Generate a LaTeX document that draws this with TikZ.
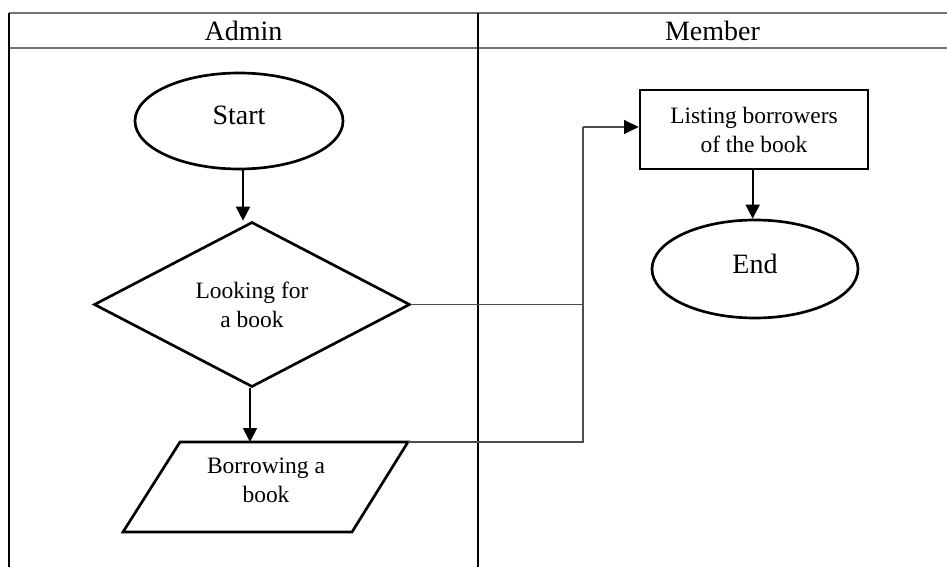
\documentclass[tikz,border=0pt]{standalone}
\usepackage{fontspec}
\setmainfont{Liberation Serif}
\usetikzlibrary{arrows.meta,shapes.geometric}
\begin{document}
\begin{tikzpicture}[x=0.75pt,y=-0.75pt,
  shapeline/.style={draw=black,line width=2pt},
  bigtext/.style={font=\fontsize{21}{25}\selectfont},
  smalltext/.style={font=\fontsize{17.6}{21.75}\selectfont,align=center},
  arr/.style={draw=black,line width=1.4pt,-{Triangle[width=10.5pt,length=10.5pt]}},
  conn/.style={draw=black!70,line width=0.9pt},
  connarr/.style={draw=black!70,line width=0.9pt,-{Triangle[width=10.5pt,length=11pt,fill=black,color=black]}},
  laneline/.style={draw=black,line width=0.9pt},
  headline/.style={draw=black!55,line width=1.6pt}]
\useasboundingbox (0,0) rectangle (947,567);
% lanes
\draw[headline] (9,13) -- (947,13);
\draw[headline] (9,48) -- (947,48);
\draw[laneline] (9,13) -- (9,567);
\draw[laneline] (478,13) -- (478,567);
\node[bigtext] (hadmin) at (243.5,30.5) {Admin};
\node[bigtext] (hmember) at (712.5,30.5) {Member};
% shapes
\node[shapeline,ellipse,minimum width=156pt,minimum height=72pt,inner sep=0pt] (start) at (239,121) {};
\node[bigtext] (starttxt) at (239,115) {Start};
\node[shapeline,diamond,minimum width=237pt,minimum height=123.75pt,inner sep=0pt,smalltext] (dia) at (252,304.5) {Looking for\\a book};
\coordinate (pBL) at (123,532);
\coordinate (pBR) at (352,532);
\coordinate (pTR) at (408,442);
\coordinate (pTL) at (180,442);
\draw[shapeline,line join=miter] (pBL) -- (pBR) -- (pTR) -- (pTL) -- cycle;
\node[smalltext] (borrow) at (266,480) {Borrowing a\\book};
\coordinate (ptop) at (250,442);
\node[shapeline,rectangle,minimum width=171pt,minimum height=59.25pt,inner sep=0pt,smalltext] (lst) at (754,129.5) {Listing borrowers\\of the book};
\node[shapeline,ellipse,minimum width=154.5pt,minimum height=73.5pt,inner sep=0pt] (endn) at (755,269) {};
\node[bigtext] (endtxt) at (755,264) {End};
% connectors
\draw[arr] ([xshift=3pt]start.south) -- ([xshift=3pt]start.south |- dia.north);
\draw[arr] ([xshift=-1.5pt]dia.south) -- ([xshift=-1.5pt]dia.south |- ptop);
\draw[arr] ([xshift=-1pt]lst.south) -- ([xshift=-1pt]lst.south |- endn.north);
\coordinate (j1) at (583,442);
\coordinate (j2) at (583,304.5);
\coordinate (j3) at (583,127);
\draw[conn] (dia.east) -- (j2);
\draw[conn] (pTR) -- (j1) -- (j3);
\draw[connarr] (j3) -- (j3 -| lst.west);
\end{tikzpicture}
\end{document}
